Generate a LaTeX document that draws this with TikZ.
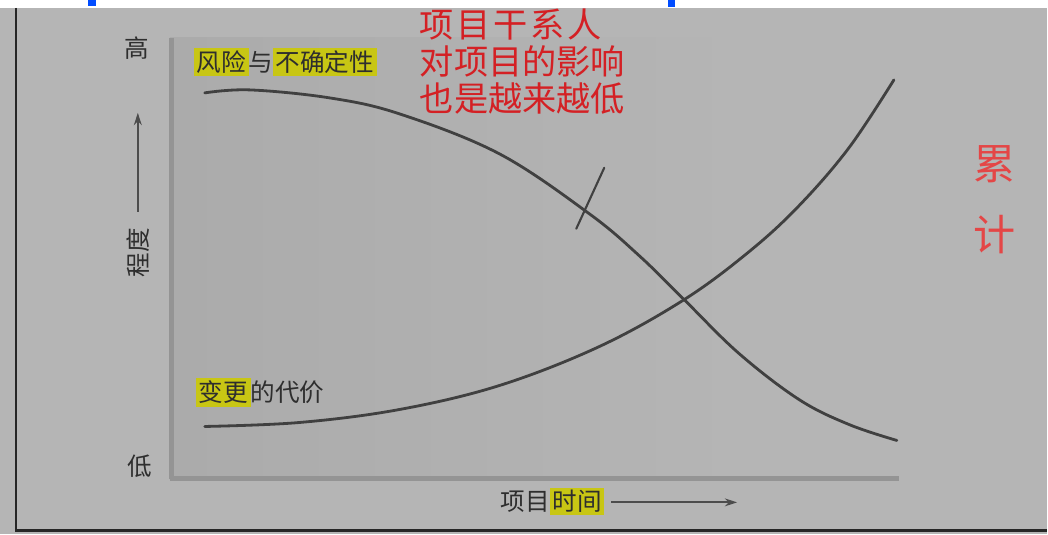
\documentclass[tikz,border=0pt]{standalone}
\usepackage{fontspec}
\newfontfamily\cjk{Noto Sans CJK SC}
\usetikzlibrary{arrows.meta}

\definecolor{paper}{RGB}{181,181,181}
\definecolor{marker}{RGB}{200,198,20}
\definecolor{inkred}{RGB}{212,32,36}
\definecolor{softred}{RGB}{228,70,70}
\colorlet{ink}{black!82}
\colorlet{plot edge}{black!42}

\newcommand{\hlt}[1]{{\setlength{\fboxsep}{1.5pt}\colorbox{marker}{#1}}}
\newcommand{\gap}{\hspace{1.5pt}}

\tikzset{
  label/.style={font=\cjk\fontsize{14}{16}\selectfont, text=ink, inner sep=0pt},
  note/.style={font=\cjk\fontsize{19.5}{21}\selectfont, text=inkred, inner sep=0pt, align=left},
  curve/.style={draw=black!75, line width=1.6pt, line cap=round},
  axis arrow/.style={draw=black!70, line width=1.2pt, -{Stealth[length=7pt,width=4.5pt]}}
  }

\begin{document}
\begin{tikzpicture}[x=0.02cm, y=-0.02cm]

  % page
  \fill[paper] (0,0) rectangle (1048,535);
  \fill[white] (0,0) rectangle (1048,8);
  \fill[blue!70!cyan] (88,0) rectangle (96,6);
  \fill[blue!70!cyan] (669,0) rectangle (676,7);
  \draw[black!85, line width=1.5pt] (16,8) -- (16,531) -- (1048,531);
  \useasboundingbox (0,0) rectangle (1048,535);

  % plot area
  \shade[left color=black!33, right color=paper] (170,38) rectangle (740,480);
  \draw[plot edge, line width=3pt] (172,38) -- (172,480);
  \draw[plot edge, line width=3pt] (170,479) -- (900,479);

  % curves
  \draw[curve] plot[smooth, tension=0.6] coordinates {(205,93) (250,90) (330,98) (400,114) (500,154) (590,214) (640,256) (685,300) (740,354) (800,400) (850,425) (898,441)};
  \draw[curve] plot[smooth, tension=0.6] coordinates {(205,427) (300,423) (400,410) (500,386) (600,347) (685,300) (750,252) (800,206) (850,148) (895,80)};
  \draw[curve, line width=1.2pt] (605,168) -- (577,229);

  % axes
  \node[label] (high) at (137,48) {高};
  \node[label] (low) at (140,467) {低};
  \node[label, rotate=90] (degree) at (138,253) {程度};
  \coordinate (ytop) at (138,113);
  \draw[axis arrow] (138,212) -- (ytop);
  \node[label, anchor=west] (time) at (501,502) {项目\hlt{时间}};
  \coordinate (xend) at (738,503);
  \draw[axis arrow] (612,503) -- (xend);

  % curve labels
  \node[label, anchor=west] (risk) at (194,62) {\hlt{风险}与\hlt{不确定性}};
  \node[label, anchor=west] (cost) at (196,393) {\hlt{变更}的代价};

  % notes
  \node[note, anchor=north west] (stake) at (420,9) {项\gap 目\gap 干\gap 系\gap 人\\对项目的影响\\也是越来越低};
  \node[note, font=\cjk\fontsize{24}{40}\selectfont, text=softred, align=center] (sum) at (996,200) {累\\计};

\end{tikzpicture}
\end{document}
